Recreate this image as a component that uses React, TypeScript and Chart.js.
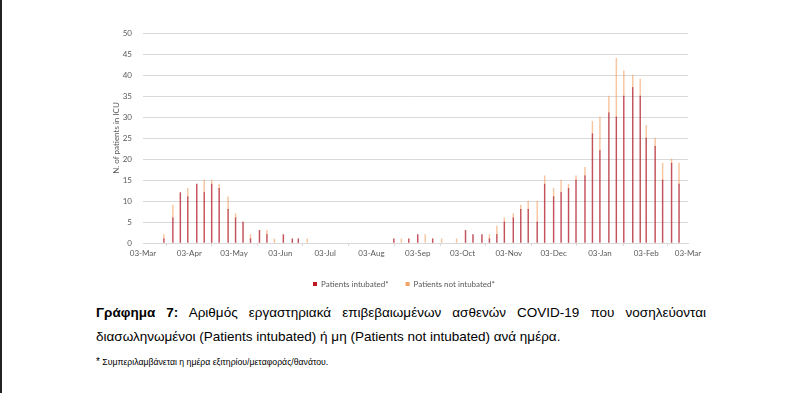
import React, { useEffect, useRef } from 'react';
import { Chart, registerables } from 'chart.js';

Chart.register(...registerables);

// Days counted from 03-Mar-2020 (visible daily bars)
const daysSince3Mar = [
  14, 20, 25, 30, 36, 41, 46, 51, 57, 62, 67, 72, 78, 83, 88, 94, 100, 104, 110, 115,
  120, 126, 131, 136, 141, 147, 152, 157, 163, 168, 173, 178, 184, 189, 194, 200, 205, 210, 216, 221,
  227, 232, 237, 242, 248, 253, 258, 264, 269, 275, 280, 285, 290, 296, 301, 306, 312, 317, 322, 328,
  333, 337, 343, 348, 354, 359,
];

const patientsIntubated = [
  1, 6, 12, 11, 14, 12, 14, 13, 8, 6, 5, 1, 3, 2, 0, 2, 1, 1, 0, 0,
  0, 0, 0, 0, 0, 0, 0, 0, 0, 1, 0, 1, 2, 0, 1, 0, 0, 0, 3, 2,
  2, 1, 2, 5, 6, 8, 8, 5, 14, 11, 12, 13, 15, 16, 26, 22, 31, 30, 35, 37,
  35, 25, 23, 15, 19, 14,
];

const patientsNotIntubated = [
  1, 3, 0, 2, 0, 3, 1, 1, 3, 1, 0, 1, 0, 1, 1, 0, 0, 0, 1, 0,
  0, 0, 0, 0, 0, 0, 0, 0, 0, 0, 1, 0, 0, 2, 0, 1, 0, 1, 0, 0,
  0, 1, 2, 1, 1, 1, 2, 5, 2, 2, 3, 1, 1, 2, 3, 8, 4, 14, 6, 3,
  4, 3, 2, 4, 1, 5,
];

const tickDays = [0, 31, 61, 92, 122, 153, 184, 214, 245, 275, 306, 337, 365];
const tickLabels = [
  '03-Mar', '03-Apr', '03-May', '03-Jun', '03-Jul', '03-Aug', '03-Sep',
  '03-Oct', '03-Nov', '03-Dec', '03-Jan', '03-Feb', '03-Mar',
];

const seriesNames = ['Patients intubated*', 'Patients not intubated*'];

const axisColor = '#595959';
const gridColor = '#d9d9d9';
const axisFont = { family: 'Lato', size: 8 };

const toPoints = (values: number[]) =>
  daysSince3Mar.map((d, i) => ({ x: d, y: values[i] === 0 ? null : values[i] }));

export default function App() {
  const canvasRef = useRef<HTMLCanvasElement | null>(null);

  useEffect(() => {
    const canvas = canvasRef.current;
    if (!canvas) return;
    const chart = new Chart(canvas, {
      type: 'bar',
      data: {
        datasets: [
          {
            label: seriesNames[0],
            data: toPoints(patientsIntubated),
            backgroundColor: 'rgba(176, 24, 36, 0.75)',
            borderWidth: 0,
            barThickness: 0.8,
          },
          {
            label: seriesNames[1],
            data: toPoints(patientsNotIntubated),
            backgroundColor: 'rgba(242, 150, 80, 0.55)',
            borderWidth: 0,
            barThickness: 0.8,
          },
        ],
      },
      options: {
        animation: false,
        responsive: false,
        maintainAspectRatio: false,
        layout: { padding: { left: 120, right: 112, top: 33, bottom: 0 } },
        plugins: {
          legend: {
            position: 'bottom',
            labels: {
              boxWidth: 4,
              boxHeight: 4,
              padding: 17,
              color: axisColor,
              font: axisFont,
              generateLabels: (c: any) =>
                c.data.datasets.map((ds: any, i: number) => ({
                  text: ds.label,
                  fillStyle: i === 0 ? '#c0181e' : '#f4a262',
                  strokeStyle: 'transparent',
                  lineWidth: 0,
                  fontColor: axisColor,
                  hidden: false,
                  datasetIndex: i,
                })),
            },
          },
          tooltip: { enabled: false },
        },
        scales: {
          x: {
            type: 'linear',
            min: 0,
            max: 365,
            stacked: true,
            offset: false,
            afterBuildTicks: (s: any) => {
              s.ticks = tickDays.map((v) => ({ value: v }));
            },
            afterFit: (s: any) => {
              s.height = 20;
            },
            ticks: {
              autoSkip: false,
              maxRotation: 0,
              padding: 3,
              color: axisColor,
              font: axisFont,
              callback: (_v: any, i: number) => tickLabels[i],
            },
            grid: { drawOnChartArea: false, drawTicks: true, tickLength: 3, color: gridColor },
            border: { display: true, color: gridColor },
          },
          y: {
            stacked: true,
            min: 0,
            max: 50,
            ticks: { stepSize: 5, padding: 11, color: axisColor, font: axisFont },
            grid: { color: gridColor, drawTicks: false },
            border: { display: false },
            title: {
              display: true,
              text: 'N. of patients in ICU',
              color: axisColor,
              font: axisFont,
              padding: { top: -8, bottom: 0 },
            },
            afterFit: (s: any) => {
              s.width = 23;
            },
          },
        },
      },
    } as any);
    return () => chart.destroy();
  }, []);

  const captionBase: React.CSSProperties = {
    position: 'absolute',
    left: 96,
    fontFamily: '"Liberation Sans", Arial, sans-serif',
    color: '#000',
    whiteSpace: 'nowrap',
  };

  return (
    <div style={{ position: 'fixed', left: 0, top: 0, width: 800, height: 393, background: '#fff', overflow: 'hidden' }}>
      <div style={{ position: 'absolute', left: 0, top: 0, width: 2, height: 393, background: '#222' }} />
      <canvas ref={canvasRef} width={800} height={298} style={{ position: 'absolute', left: 0, top: 0, width: 800, height: 298 }} />
      <div
        style={{
          ...captionBase,
          top: 305,
          width: 610,
          fontSize: 13.5,
          lineHeight: '16px',
          textAlign: 'justify',
          textAlignLast: 'justify',
          whiteSpace: 'normal',
        }}
      >
        <b>Γράφημα 7:</b> Αριθμός εργαστηριακά επιβεβαιωμένων ασθενών COVID-19 που νοσηλεύονται
      </div>
      <div style={{ ...captionBase, top: 329, fontSize: 13.5, lineHeight: '16px' }}>
        διασωληνωμένοι (Patients intubated) ή μη (Patients not intubated) ανά ημέρα.
      </div>
      <div style={{ ...captionBase, top: 356, fontSize: 8.7, lineHeight: '12px' }}>
        <span style={{ fontSize: 10 }}>*</span> Συμπεριλαμβάνεται η ημέρα εξιτηρίου/μεταφοράς/θανάτου.
      </div>
    </div>
  );
}
